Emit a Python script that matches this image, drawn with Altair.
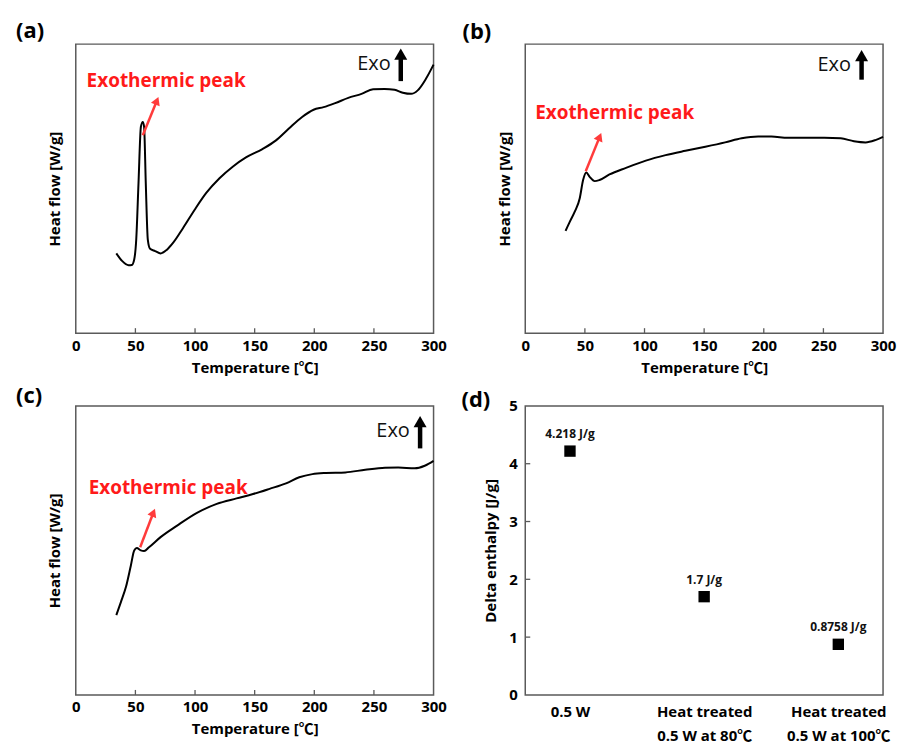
import altair as alt
import pandas as pd

FONT = "Open Sans, Noto Sans CJK KR, sans-serif"

# ---------------- data ----------------
temp_ticks = [0, 50, 100, 150, 200, 250, 300]

a_x = [34, 38.8, 44.3, 47, 49, 50.7, 52.6, 54.6, 56.2, 57.3, 58.7, 60.4, 62.3, 66.5, 71.2,
       76.2, 81.7, 90, 99.7, 109.4, 120.5, 131.6, 142.7, 156.5, 167.6, 178.7, 189.8, 199.4,
       207.8, 217.5, 228.5, 239.6, 249.3, 259, 267.3, 274.2, 281.2, 286.7, 293.6, 300]
a_y = [27.6, 25.0, 23.5, 23.6, 25.5, 32.4, 51.9, 71.4, 73.1, 71.4, 51.9, 32.4, 29.2, 28.4, 27.6,
       28.8, 31.3, 36.4, 42.7, 48.5, 53.6, 57.6, 60.8, 63.7, 66.6, 70.8, 74.8, 77.3,
       78.2, 79.6, 81.4, 82.8, 84.4, 84.5, 84.2, 83.2, 82.8, 84.0, 88.0, 92.9]

b_x = [33.8, 37.4, 41.6, 45.7, 48.5, 51.2, 54.0, 58.2, 62.3, 70.6, 84.5, 101.1, 117.7, 134.3,
       151, 167.6, 181.4, 195.3, 206.4, 220.2, 234.1, 250.7, 264.5, 275.6, 285.3, 293.6, 300]
b_y = [35.4, 38.6, 42.1, 46.7, 53.0, 55.6, 54.1, 52.6, 53.0, 54.9, 57.2, 59.7, 61.6, 63.1,
       64.5, 66.0, 67.4, 68.0, 68.0, 67.6, 67.6, 67.6, 67.4, 66.4, 66.0, 66.8, 67.9]

c_x = [34, 37.9, 42.1, 46.2, 49, 51.2, 54.5, 57.3, 61.4, 71.1, 85, 101.6, 118.2, 134.8, 148.6,
       162.5, 176.3, 187.4, 198.4, 209.5, 226.1, 242.7, 259.3, 270.4, 284.2, 292.6, 300]
c_y = [27.6, 32.2, 37.4, 44.8, 50.0, 50.8, 50.0, 49.8, 51.1, 54.6, 58.6, 63.0, 66.1, 68.0, 69.5,
       71.3, 73.2, 75.3, 76.4, 76.8, 77.0, 77.9, 78.6, 78.7, 78.4, 79.3, 81.0]

# annotation anchors (data units): red arrow start/end, label start, Exo text, Exo arrow
a_arrow = [56.2, 68.5, 68.0, 80.4]
b_arrow = [50.7, 56.0, 62.4, 67.9]
c_arrow = [54.0, 51.1, 65.1, 63.1]
a_label = [9.1, 87.4]
b_label = [8.3, 76.2]
c_label = [10.8, 71.6]
a_exo = [236, 93.0, 272.5, 87.2, 96.5]
b_exo = [245, 92.6, 282, 87.7, 96.0]
c_exo = [252, 91.4, 288.7, 85.3, 94.6]
peak_angles = [22.6, 22.6, 22.6]

categories = ["0.5 W", "Heat treated|0.5 W at 80℃", "Heat treated|0.5 W at 100℃"]
enthalpy = [4.218, 1.7, 0.8758]
enthalpy_labels = ["4.218 J/g", "1.7 J/g", "0.8758 J/g"]
enthalpy_ticks = [0, 1, 2, 3, 4, 5]

W, H = 359, 290
FRAME = "#5a5a5a"


def dsc_panel(xs, ys, arrow, label, exo, angle, letter, lx, ly):
    curve = pd.DataFrame({"t": xs, "h": ys})
    xs_ = alt.Scale(domain=[0, 300], nice=False)
    ys_ = alt.Scale(domain=[0, 100], nice=False)
    xenc = alt.X("t:Q", scale=xs_,
                 axis=alt.Axis(values=temp_ticks, ticks=False, domain=False, grid=False,
                               labelFlush=False, labelOverlap=False,
                               labelPadding=5, title="Temperature [℃]", titlePadding=7))
    yenc = alt.Y("h:Q", scale=ys_,
                 axis=alt.Axis(labels=False, ticks=False, domain=False, grid=False,
                               title="Heat flow [W/g]", titlePadding=13))
    line = alt.Chart(curve).mark_line(color="black", strokeWidth=2, interpolate="monotone").encode(
        x=xenc, y=yenc)

    tick_df = pd.DataFrame({"t": temp_ticks[1:-1]})
    ticks = alt.Chart(tick_df).mark_rule(color=FRAME, strokeWidth=1.3).encode(
        x="t:Q", y=alt.value(H), y2=alt.value(H - 5))

    arr_df = pd.DataFrame({"t": [arrow[0]], "h": [arrow[1]], "t2": [arrow[2]], "h2": [arrow[3]]})
    arr = alt.Chart(arr_df).mark_rule(color="#ff3b3b", strokeWidth=2.5).encode(
        x="t:Q", y="h:Q", x2="t2:Q", y2="h2:Q")
    head = alt.Chart(arr_df).mark_point(shape="triangle-up", filled=True, opacity=1,
                                        color="#ff3b3b", size=90, angle=angle).encode(
        x="t2:Q", y="h2:Q")

    lab_df = pd.DataFrame({"t": [label[0]], "h": [label[1]], "s": ["Exothermic peak"]})
    lab = alt.Chart(lab_df).mark_text(color="#ff1a1a", font=FONT, fontSize=19, fontWeight="bold",
                                      align="left", baseline="middle").encode(
        x="t:Q", y="h:Q", text="s:N")

    exo_df = pd.DataFrame({"t": [exo[0]], "h": [exo[1]], "s": ["Exo"],
                           "at": [exo[2]], "a1": [exo[3]], "a2": [exo[4]]})
    exo_t = alt.Chart(exo_df).mark_text(color="#111111", font=FONT, fontSize=20,
                                        align="left", baseline="middle").encode(
        x="t:Q", y="h:Q", text="s:N")
    exo_r = alt.Chart(exo_df).mark_rule(color="black", strokeWidth=4.5).encode(
        x="at:Q", y="a1:Q", y2="a2:Q")
    exo_h = alt.Chart(exo_df).mark_point(shape="triangle-up", filled=True, opacity=1,
                                         color="black", size=170).encode(x="at:Q", y="a2:Q")

    let_df = pd.DataFrame({"s": [letter]})
    let = alt.Chart(let_df).mark_text(font=FONT, fontSize=22, fontWeight="bold", align="left",
                                      baseline="middle", color="black").encode(
        x=alt.value(lx), y=alt.value(ly), text="s:N")

    return alt.layer(line, ticks, arr, head, lab, exo_t, exo_r, exo_h, let).properties(
        width=W, height=H)


pa = dsc_panel(a_x, a_y, a_arrow, a_label, a_exo, peak_angles[0], "(a)", -60, -13)
pb = dsc_panel(b_x, b_y, b_arrow, b_label, b_exo, peak_angles[1], "(b)", -63, -12)
pc = dsc_panel(c_x, c_y, c_arrow, c_label, c_exo, peak_angles[2], "(c)", -60, -10)

# ---------------- panel (d) ----------------
d_df = pd.DataFrame({"cat": categories, "v": enthalpy, "lab": enthalpy_labels})
dx = alt.X("cat:N", sort=categories, scale=alt.Scale(type="point", padding=1 / 3),
           axis=alt.Axis(title=None, ticks=False, domain=False, grid=False, labelAngle=0,
                         labelPadding=10, labelFontSize=15, labelLineHeight=24,
                         labelExpr="split(datum.label, '|')"))
dy = alt.Y("v:Q", scale=alt.Scale(domain=[0, 5], nice=False),
           axis=alt.Axis(values=enthalpy_ticks, format="d", ticks=False, domain=False, grid=False,
                         labelPadding=8, title="Delta enthalpy [J/g]", titlePadding=10))
pts = alt.Chart(d_df).mark_point(shape="square", filled=True, opacity=1, color="black",
                                 size=130).encode(x=dx, y=dy)
txt = alt.Chart(d_df).mark_text(font=FONT, fontSize=12, fontWeight="bold", dy=-17,
                                color="#111111").encode(x=dx, y=dy, text="lab:N")
dtick_df = pd.DataFrame({"v": enthalpy_ticks[1:-1]})
dticks = alt.Chart(dtick_df).mark_rule(color=FRAME, strokeWidth=1.3).encode(
    y="v:Q", x=alt.value(0), x2=alt.value(5))
dlet = alt.Chart(pd.DataFrame({"s": ["(d)"]})).mark_text(
    font=FONT, fontSize=22, fontWeight="bold", align="left", baseline="middle",
    color="black").encode(x=alt.value(-64), y=alt.value(-6), text="s:N")
pd_ = alt.layer(pts, txt, dticks, dlet).properties(width=W, height=H)

chart = alt.concat(pa, pb, pc, pd_, columns=2, bounds="flush",
                   spacing={"row": 73, "column": 92}).properties(
    padding={"left": 7, "top": 10, "right": 0, "bottom": 2}
).configure_view(stroke=FRAME, strokeWidth=1.5).configure_axis(
    labelFont=FONT, labelFontWeight="bold", labelFontSize=15, labelColor="black",
    titleFont=FONT, titleFontWeight="bold", titleFontSize=15, titleColor="black"
)

chart.save("out.html", embed_options={"renderer": "svg", "actions": False})
